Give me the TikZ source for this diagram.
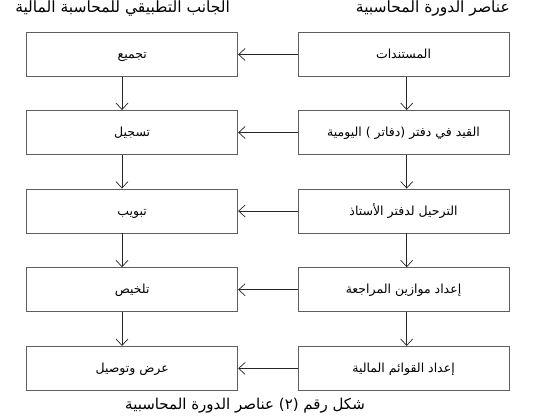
\documentclass[tikz,border=0pt]{standalone}
\usepackage{fontspec}
\usetikzlibrary{arrows.meta}
\TeXXeTstate=1
\newfontfamily\arabicfont[Script=Arabic]{DejaVu Sans}
\definecolor{boxgray}{RGB}{95,95,95}
\tikzset{
  box/.style={draw=boxgray, line width=0.9pt, minimum width=211, minimum height=44, inner sep=0pt,
    text height=1em, text depth=0.15em,
    font=\arabicfont\fontsize{12.5}{14}\selectfont},
  arr/.style={-{Straight Barb[length=6.5pt,width=12pt]}, line width=0.7pt, draw=black!85},
  titlestyle/.style={font=\arabicfont\fontsize{15.5}{18}\selectfont, inner sep=0pt}
}
\begin{document}
\begin{tikzpicture}[x=1pt,y=-1pt]
\useasboundingbox[fill=white] (0,0) rectangle (540,418);
% titles
\node[titlestyle, anchor=base east] (tr) at (510,12.5) {\beginR عناصر الدورة المحاسبية\endR};
\node[titlestyle, anchor=base east] (tl) at (230,12.5) {\beginR الجانب التطبيقي للمحاسبة المالية\endR};
% right column
\node[box] (r1) at (403.5,54.5) {\beginR المستندات\endR};
\node[box] (r2) at (403.5,132.5) {\beginR القيد في دفتر (دفاتر ) اليومية\endR};
\node[box] (r3) at (403.5,211) {\beginR الترحيل لدفتر الأستاذ\endR};
\node[box] (r4) at (403.5,289.7) {\beginR إعداد موازين المراجعة\endR};
\node[box] (r5) at (403.5,368.4) {\beginR إعداد القوائم المالية\endR};
% left column
\node[box] (l1) at (132.2,54.5) {\beginR تجميع\endR};
\node[box] (l2) at (132.2,132.5) {\beginR تسجيل\endR};
\node[box] (l3) at (132.2,211) {\beginR تبويب\endR};
\node[box] (l4) at (132.2,289.7) {\beginR تلخيص\endR};
\node[box] (l5) at (132.2,368.4) {\beginR عرض وتوصيل\endR};
% caption
\node[titlestyle, font=\arabicfont\fontsize{15}{17}\selectfont, anchor=base] (cap) at (245,409.5) {\beginR شكل رقم (٢) عناصر الدورة المحاسبية\endR};
% column coordinates for vertical arrows
\coordinate (cl) at (122,0);
\coordinate (cr) at (406.7,0);
% vertical arrows
\foreach \a/\b in {1/2,2/3,3/4,4/5}{
  \draw[arr] (l\a.south -| cl) -- (l\b.north -| cl);
  \draw[arr] (r\a.south -| cr) -- (r\b.north -| cr);
}
% horizontal arrows
\foreach \i in {1,...,5}{
  \draw[arr] (r\i.west) -- (l\i.east);
}
\end{tikzpicture}
\end{document}
